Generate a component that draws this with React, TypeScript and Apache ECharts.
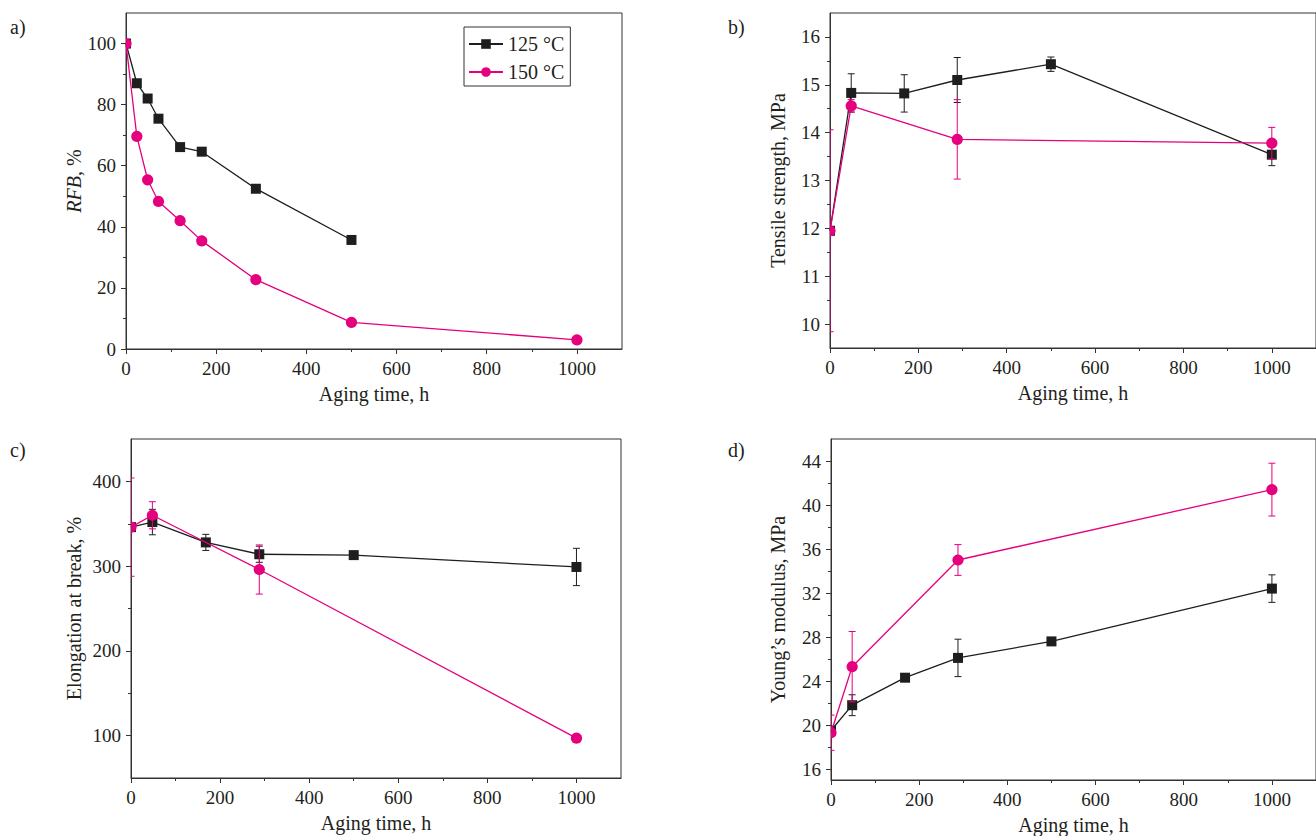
import React, { useEffect, useRef } from 'react';
import * as echarts from 'echarts';

const FONT = '"Liberation Serif", "Times New Roman", serif';
const BLACK = '#1e1e1e';
const PINK = '#e5007e';
const AX = '#333333';
const TXT = '#231f20';

// ---------- data ----------
const seriesNames = ['125 °C', '150 °C'];
const xLabelTicks = [0, 200, 400, 600, 800, 1000];
const xMinorTicks = [100, 300, 500, 700, 900];

// a) RFB
const aTime125 = [0, 24, 48, 72, 120, 168, 288, 500];
const aRfb125 = [100, 87.0, 82.0, 75.4, 66.1, 64.6, 52.5, 35.7];
const aTime150 = [0, 24, 48, 72, 120, 168, 288, 500, 1000];
const aRfb150 = [100, 69.6, 55.4, 48.3, 42.0, 35.4, 22.7, 8.7, 3.0];

// b) Tensile strength
const bTime125 = [0, 48, 168, 288, 500, 1000];
const bTs125 = [11.95, 14.83, 14.82, 15.1, 15.43, 13.54];
const bTs125Err = [0, 0.4, 0.39, 0.47, 0.15, 0.23];
const bTime150 = [0, 48, 288, 1000];
const bTs150 = [11.95, 14.56, 13.86, 13.78];
const bTs150Err = [2.11, 0.13, 0.83, 0.33];

// c) Elongation at break
const cTime125 = [0, 48, 168, 288, 500, 1000];
const cEl125 = [346, 352, 328, 314, 313, 299];
const cEl125Err = [0, 15, 9.5, 9.5, 4, 22];
const cTime150 = [0, 48, 288, 1000];
const cEl150 = [346, 360, 296, 97];
const cEl150Err = [58, 16, 29, 0];

// d) Young's modulus
const dTime125 = [0, 48, 168, 288, 500, 1000];
const dYm125 = [19.5, 21.8, 24.3, 26.1, 27.6, 32.4];
const dYm125Err = [0.3, 0.95, 0.3, 1.7, 0.3, 1.25];
const dTime150 = [0, 48, 288, 1000];
const dYm150 = [19.3, 25.3, 35.0, 41.4];
const dYm150Err = [1.6, 3.2, 1.4, 2.4];

// y-axis ticks
const aYLabels = [0, 20, 40, 60, 80, 100];
const aYMinor = [10, 30, 50, 70, 90];
const bYLabels = [10, 11, 12, 13, 14, 15, 16];
const bYMinor = [10.5, 11.5, 12.5, 13.5, 14.5, 15.5];
const cYLabels = [100, 200, 300, 400];
const cYMinor = [150, 250, 350];
const dYLabels = [16, 20, 24, 28, 32, 36, 40, 44];
const dYMinor = [18, 22, 26, 30, 34, 38, 42];

const panelLabels = ['a)', 'b)', 'c)', 'd)'];

// ---------- layout ----------
const grids = [
  { left: 126, top: 13, width: 496, height: 336 },
  { left: 830, top: 13, width: 495, height: 335 },
  { left: 131, top: 439, width: 490, height: 339 },
  { left: 831, top: 439, width: 493, height: 341 },
];

const yConf = [
  { min: 0, max: 110, labels: aYLabels, minor: aYMinor, name: '{i|RFB}, %', gap: 40 },
  { min: 9.5, max: 16.5, labels: bYLabels, minor: bYMinor, name: 'Tensile strength, MPa', gap: 42 },
  { min: 50, max: 450, labels: cYLabels, minor: cYMinor, name: 'Elongation at break, %', gap: 47 },
  { min: 15, max: 46, labels: dYLabels, minor: dYMinor, name: 'Young\u2019s modulus, MPa', gap: 43 },
];

const labelPos = [
  { left: 10, top: 17 },
  { left: 728, top: 17 },
  { left: 10, top: 440 },
  { left: 728, top: 440 },
];

const textStyle = { fontFamily: FONT, color: TXT };
const plain = (v: number) => String(v);

function makeXAxes(gi: number) {
  return [
    {
      gridIndex: gi,
      type: 'value',
      position: 'bottom',
      min: 0,
      max: 1100,
      axisLine: { show: true, onZero: false, lineStyle: { color: AX, width: 1 } },
      axisTick: { show: true, inside: false, length: 5, customValues: xLabelTicks, lineStyle: { color: AX, width: 1 } },
      axisLabel: { show: true, customValues: xLabelTicks, formatter: plain, margin: 10, fontSize: 19, ...textStyle },
      splitLine: { show: false },
      name: 'Aging time, h',
      nameLocation: 'middle',
      nameGap: 35,
      nameTextStyle: { fontSize: 20, ...textStyle },
    },
    {
      gridIndex: gi,
      type: 'value',
      position: 'bottom',
      min: 0,
      max: 1100,
      axisLine: { show: false, onZero: false },
      axisTick: { show: true, inside: false, length: 3, customValues: xMinorTicks, lineStyle: { color: AX, width: 1 } },
      axisLabel: { show: false },
      splitLine: { show: false },
    },
  ];
}

function makeYAxes(gi: number) {
  const c = yConf[gi];
  return [
    {
      gridIndex: gi,
      type: 'value',
      position: 'left',
      min: c.min,
      max: c.max,
      axisLine: { show: true, onZero: false, lineStyle: { color: AX, width: 1 } },
      axisTick: { show: true, inside: false, length: 5, customValues: c.labels, lineStyle: { color: AX, width: 1 } },
      axisLabel: { show: true, customValues: c.labels, formatter: plain, margin: 10, fontSize: 19, ...textStyle },
      splitLine: { show: false },
      name: c.name,
      nameLocation: 'middle',
      nameRotate: 90,
      nameGap: c.gap,
      nameTextStyle: {
        fontSize: 20,
        ...textStyle,
        rich: { i: { fontStyle: 'italic', fontSize: 20, fontFamily: FONT, color: TXT } },
      },
    },
    {
      gridIndex: gi,
      type: 'value',
      position: 'left',
      min: c.min,
      max: c.max,
      axisLine: { show: false, onZero: false },
      axisTick: { show: true, inside: false, length: 3, customValues: c.minor, lineStyle: { color: AX, width: 1 } },
      axisLabel: { show: false },
      splitLine: { show: false },
    },
  ];
}

function lineSeries(gi: number, which: number, xs: number[], ys: number[]) {
  const isBlack = which === 0;
  const color = isBlack ? BLACK : PINK;
  return {
    type: 'line',
    name: seriesNames[which],
    xAxisIndex: gi * 2,
    yAxisIndex: gi * 2,
    data: xs.map((x, i) => [x, ys[i]]),
    symbol: isBlack ? 'rect' : 'circle',
    symbolSize: isBlack ? 10 : 11,
    showSymbol: false,
    clip: true,
    lineStyle: { color, width: 1.3 },
    itemStyle: { color },
    z: isBlack ? 2 : 5,
  };
}

function markerSeries(gi: number, which: number, xs: number[], ys: number[]) {
  const isBlack = which === 0;
  const color = isBlack ? BLACK : PINK;
  return {
    type: 'custom',
    name: 'mk' + gi + '_' + which,
    xAxisIndex: gi * 2,
    yAxisIndex: gi * 2,
    clip: true,
    encode: { x: 0, y: 1 },
    data: xs.map((x, i) => [x, ys[i]]),
    z: isBlack ? 4 : 7,
    renderItem: (params: any, api: any) => {
      const p = api.coord([api.value(0), api.value(1)]);
      if (isBlack) {
        const s = 10;
        return { type: 'rect', shape: { x: p[0] - s / 2, y: p[1] - s / 2, width: s, height: s }, style: { fill: color } };
      }
      return { type: 'circle', shape: { cx: p[0], cy: p[1], r: 5.6 }, style: { fill: color } };
    },
  };
}

function errSeries(gi: number, which: number, xs: number[], ys: number[], errs: number[]) {
  const color = which === 0 ? BLACK : PINK;
  const data: number[][] = [];
  xs.forEach((x, i) => {
    if (errs[i] > 0) data.push([x, ys[i] - errs[i], ys[i] + errs[i]]);
  });
  return {
    type: 'custom',
    name: 'err' + gi + '_' + which,
    xAxisIndex: gi * 2,
    yAxisIndex: gi * 2,
    clip: true,
    encode: { x: 0, y: [1, 2] },
    data,
    z: which === 0 ? 3 : 6,
    renderItem: (params: any, api: any) => {
      const x = api.value(0);
      const lo = api.value(1);
      const hi = api.value(2);
      const p1 = api.coord([x, hi]);
      const p2 = api.coord([x, lo]);
      const w = 3.5;
      const style = { stroke: color, lineWidth: 1, fill: 'none' };
      return {
        type: 'group',
        children: [
          { type: 'line', shape: { x1: p1[0], y1: p1[1], x2: p2[0], y2: p2[1] }, style },
          { type: 'line', shape: { x1: p1[0] - w, y1: p1[1], x2: p1[0] + w, y2: p1[1] }, style },
          { type: 'line', shape: { x1: p2[0] - w, y1: p2[1], x2: p2[0] + w, y2: p2[1] }, style },
        ],
      };
    },
  };
}

function panel(gi: number, x125: number[], y125: number[], e125: number[] | null, x150: number[], y150: number[], e150: number[] | null) {
  const out: any[] = [];
  out.push(lineSeries(gi, 0, x125, y125));
  if (e125) out.push(errSeries(gi, 0, x125, y125, e125));
  out.push(markerSeries(gi, 0, x125, y125));
  out.push(lineSeries(gi, 1, x150, y150));
  if (e150) out.push(errSeries(gi, 1, x150, y150, e150));
  out.push(markerSeries(gi, 1, x150, y150));
  return out;
}

export default function App() {
  const ref = useRef<HTMLDivElement>(null);
  useEffect(() => {
    if (!ref.current) return;
    const chart = echarts.init(ref.current, null, { renderer: 'svg' });
    const xAxis: any[] = [];
    const yAxis: any[] = [];
    for (let g = 0; g < 4; g++) {
      xAxis.push(...makeXAxes(g));
      yAxis.push(...makeYAxes(g));
    }
    const series: any[] = [
      ...panel(0, aTime125, aRfb125, null, aTime150, aRfb150, null),
      ...panel(1, bTime125, bTs125, bTs125Err, bTime150, bTs150, bTs150Err),
      ...panel(2, cTime125, cEl125, cEl125Err, cTime150, cEl150, cEl150Err),
      ...panel(3, dTime125, dYm125, dYm125Err, dTime150, dYm150, dYm150Err),
    ];
    const option: any = {
      animation: false,
      backgroundColor: '#ffffff',
      grid: grids.map((g) => ({
        ...g,
        show: true,
        borderColor: AX,
        borderWidth: 1,
        backgroundColor: 'transparent',
        containLabel: false,
      })),
      xAxis,
      yAxis,
      legend: {
        data: seriesNames,
        left: 464,
        top: 27,
        orient: 'vertical',
        selectedMode: false,
        borderColor: AX,
        borderWidth: 1,
        padding: [7, 6, 4, 4],
        itemWidth: 34,
        itemHeight: 12,
        itemGap: 8,
        textStyle: { fontSize: 20, fontFamily: FONT, color: TXT },
      },
      graphic: panelLabels.map((t, i) => ({
        type: 'text',
        left: labelPos[i].left,
        top: labelPos[i].top,
        style: { text: t, fontSize: 20, fontFamily: FONT, fill: TXT },
      })),
      series,
    };
    chart.setOption(option);
    return () => chart.dispose();
  }, []);
  return (
    <div
      ref={ref}
      style={{ position: 'absolute', left: 0, top: 0, width: 1316, height: 836, background: '#fff' }}
    />
  );
}
